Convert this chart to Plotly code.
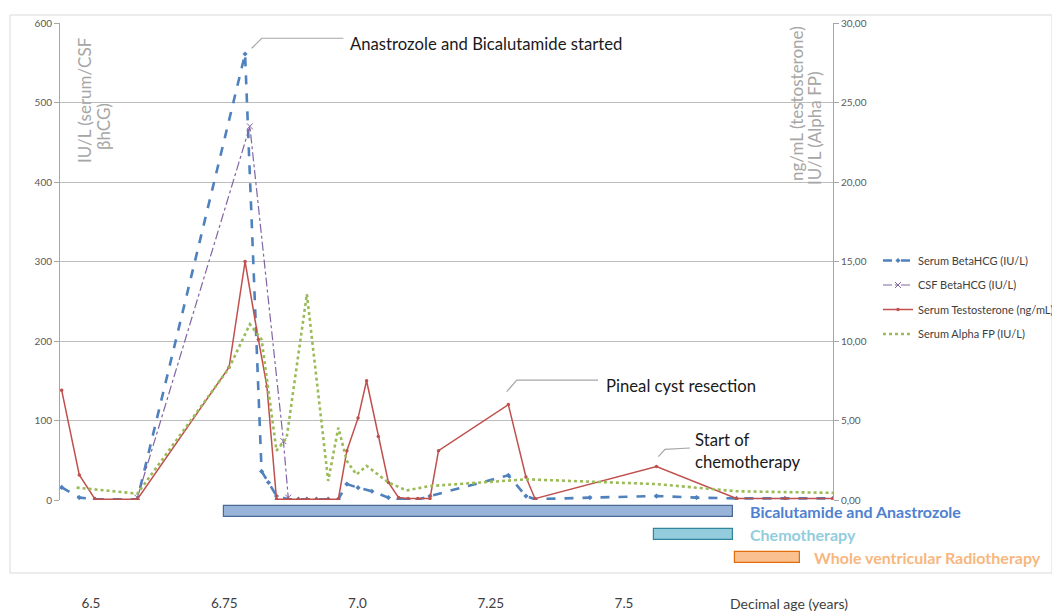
import plotly.graph_objects as go

# ---------------- data ----------------
serum_hcg_age = [6.445, 6.478, 6.5075, 6.587, 6.789, 6.820, 6.833, 6.848, 6.870, 6.889, 6.905,
                 6.923, 6.945, 6.964, 6.980, 7.001, 7.027, 7.058, 7.077, 7.095, 7.113, 7.136,
                 7.283, 7.316, 7.333, 7.436, 7.561, 7.636, 7.711, 7.802, 7.892]
serum_hcg = [16, 3, 1, 1, 561, 36, 22, 5, 1, 1, 1, 1, 1, 1, 20, 15.5, 11, 3, 1, 0.5, 0.5, 5,
             31, 5, 1, 3, 5, 3, 2, 2, 2]

csf_hcg_age = [6.587, 6.798, 6.861, 6.870]
csf_hcg = [3, 470, 74, 3]

testo_age = [6.445, 6.478, 6.5075, 6.587, 6.759, 6.789, 6.814, 6.830, 6.848, 6.870, 6.889,
             6.905, 6.923, 6.945, 6.964, 6.980, 7.001, 7.017, 7.039, 7.058, 7.077, 7.095,
             7.113, 7.136, 7.152, 7.283, 7.316, 7.333, 7.561, 7.711, 7.802, 7.892]
testo = [6.9, 1.58, 0.05, 0.05, 8.35, 15.0, 10.1, 7.15, 0.05, 0.05, 0.05, 0.05, 0.05, 0.05,
         0.05, 3.1, 5.15, 7.5, 4.0, 1.1, 0.15, 0.1, 0.1, 0.1, 3.1, 6.0, 1.45, 0.08, 2.1, 0.1,
         0.1, 0.1]

afp_age = [6.473, 6.587, 6.759, 6.798, 6.820, 6.848, 6.867, 6.905, 6.945, 6.964, 6.980,
           6.998, 7.017, 7.058, 7.092, 7.136, 7.317, 7.561, 7.711, 7.892]
afp = [0.78, 0.4, 8.3, 11.05, 10.1, 3.1, 3.9, 12.95, 1.2, 4.55, 2.45, 1.6, 2.15, 1.1, 0.6,
       0.88, 1.3, 1.0, 0.55, 0.45]

series_names = ["Serum BetaHCG (IU/L)", "CSF BetaHCG (IU/L)",
                "Serum Testosterone (ng/mL)", "Serum Alpha FP (IU/L)"]

treat_names = ["Bicalutamide and Anastrozole", "Chemotherapy", "Whole ventricular Radiotherapy"]
treat_start = [6.750, 7.556, 7.708]
treat_end = [7.705, 7.705, 7.830]
treat_row = [2, 1, 0]

left_ticks = [0, 100, 200, 300, 400, 500, 600]
right_ticks = [0, 5, 10, 15, 20, 25, 30]
right_ticktext = ["0,00", "5,00", "10,00", "15,00", "20,00", "25,00", "30,00"]
x_ticks = [6.5, 6.75, 7.0, 7.25, 7.5]
x_ticktext = ["6.5", "6.75", "7.0", "7.25", "7.5"]

events = [
    {"text": "Anastrozole and Bicalutamide started",
     "path": [(6.8015, 568.2), (6.8203, 580.8), (6.9734, 580.8)], "tx": 6.9822, "ty": [573.6]},
    {"text": "Pineal cyst resection",
     "path": [(7.2799, 136.2), (7.2987, 150.9), (7.4512, 150.9)], "tx": 7.4625, "ty": [143.4]},
    {"text": "Start of|chemotherapy",
     "path": [(7.5644, 54.5), (7.5769, 63.8), (7.6238, 65.4)], "tx": 7.6295, "ty": [75.5, 47.8]},
]

# ---------------- styling ----------------
FONT = "Lato, 'Open Sans', sans-serif"
C_BLUE = "#4F81BD"
C_PURPLE = "#8064A2"
C_RED = "#C0504D"
C_GREEN = "#9BBB59"
GRID = "#BDBDBD"
AXIS = "#A6A6A6"
TICKC = "#595959"

treat_fill = ["#98B4D9", "#93CDDD", "#FAC090"]
treat_line = ["#4A6A96", "#31859C", "#E46C0A"]
treat_text = ["#4F81D0", "#92CDDC", "#F8B77E"]

fig = go.Figure()

fig.add_trace(go.Scatter(
    x=serum_hcg_age, y=serum_hcg, name=series_names[0], mode="lines+markers",
    line=dict(color=C_BLUE, width=2.6, dash="dash"),
    marker=dict(symbol="diamond", size=4, color=C_BLUE),
    xaxis="x", yaxis="y", legendgroup="a"))
fig.add_trace(go.Scatter(
    x=csf_hcg_age, y=csf_hcg, name=series_names[1], mode="lines+markers",
    line=dict(color=C_PURPLE, width=1.2, dash="dashdot"),
    marker=dict(symbol="x-thin", size=6, line=dict(color=C_PURPLE, width=1)),
    xaxis="x", yaxis="y", legendgroup="b"))
fig.add_trace(go.Scatter(
    x=testo_age, y=testo, name=series_names[2], mode="lines+markers",
    line=dict(color=C_RED, width=1.5),
    marker=dict(symbol="circle", size=3.5, color=C_RED),
    xaxis="x", yaxis="y2", legendgroup="c"))
fig.add_trace(go.Scatter(
    x=afp_age, y=afp, name=series_names[3], mode="lines",
    line=dict(color=C_GREEN, width=2.6, dash="dot"),
    xaxis="x", yaxis="y2", legendgroup="d"))

# treatment timeline bars
for i in range(len(treat_names)):
    fig.add_trace(go.Bar(
        x=[treat_end[i] - treat_start[i]], base=[treat_start[i]], y=[treat_row[i]],
        orientation="h", width=0.48,
        marker=dict(color=treat_fill[i], line=dict(color=treat_line[i], width=1.2)),
        xaxis="x", yaxis="y3", showlegend=False, hoverinfo="skip",
        legendgroup=f"t{i}"))

# ---------------- layout ----------------
# page has an 8px body margin; the figure is sized so it fits the 1060x612 window
OFF = 8
W, H = 1060 - OFF, 612 - OFF
ML, MR, MT, MB = 60 - OFF, 227, 23 - OFF, 37
plot_h = H - MT - MB
main_bottom_px = 500
dom_split = (575 - main_bottom_px) / plot_h

def px_x(px):
    return (px - 60) / 773

def px_y(py):
    return (575 - py) / plot_h

fig.update_layout(
    width=W, height=H,
    margin=dict(l=ML, r=MR, t=MT, b=MB, autoexpand=False),
    paper_bgcolor="white", plot_bgcolor="white",
    font=dict(family=FONT, size=10, color=TICKC),
    showlegend=True,
    legend=dict(x=px_x(878), y=px_y(246), xanchor="left", yanchor="top",
                font=dict(size=11, color="#404040", family=FONT),
                bgcolor="rgba(0,0,0,0)", itemwidth=30, tracegroupgap=5.5,
                traceorder="grouped"),
    bargap=0,
    xaxis=dict(domain=[0, 1], range=[6.4418, 7.8921], anchor="y3",
               showgrid=False, zeroline=False, showline=False, ticks="",
               tickmode="array", tickvals=x_ticks, ticktext=x_ticktext, automargin=False,
               tickfont=dict(size=13.5, color="#404040"), ticklabelstandoff=18),
    yaxis=dict(domain=[dom_split, 1], range=[0, 600], tickvals=left_ticks,
               showgrid=True, gridcolor=GRID, gridwidth=1, zeroline=False,
               showline=True, linecolor=AXIS, linewidth=1, ticks="outside",
               ticklen=5, tickcolor=AXIS, tickfont=dict(size=10, color=TICKC),
               anchor="x", automargin=False),
    yaxis2=dict(domain=[dom_split, 1], range=[0, 30], overlaying="y", side="right",
                tickvals=right_ticks, ticktext=right_ticktext, showgrid=False,
                zeroline=False, showline=True, linecolor=AXIS, linewidth=1,
                ticks="outside", ticklen=5, tickcolor=AXIS, automargin=False,
                tickfont=dict(size=10, color=TICKC), anchor="x"),
    yaxis3=dict(domain=[0, dom_split], range=[-0.76, 2.5], visible=False,
                fixedrange=True, anchor="x", automargin=False),
)

shapes = []
annotations = []

# outer frame
shapes.append(dict(type="rect", xref="paper", yref="paper",
                   x0=px_x(10), x1=px_x(1052), y0=px_y(573), y1=px_y(15),
                   line=dict(color="#D9D9D9", width=1), fillcolor="rgba(0,0,0,0)",
                   layer="below"))

# event callouts
for ev in events:
    pts = ev["path"]
    path = "M " + " L ".join(f"{x},{y}" for x, y in pts)
    shapes.append(dict(type="path", xref="x", yref="y", path=path,
                       line=dict(color="#A6A6A6", width=1.2)))
    for line_txt, ty in zip(ev["text"].split("|"), ev["ty"]):
        annotations.append(dict(x=ev["tx"], y=ty, xref="x", yref="y", text=line_txt,
                                showarrow=False, xanchor="left", yanchor="middle",
                                font=dict(size=16.7, color="#1a1a1a", family=FONT)))

# treatment labels
for i in range(len(treat_names)):
    lx = px_x(748) if i < 2 else px_x(812)
    annotations.append(dict(x=lx, y=treat_row[i], xref="paper", yref="y3",
                            text=f"<b>{treat_names[i]}</b>", showarrow=False,
                            xanchor="left", yanchor="middle",
                            font=dict(size=16, color=treat_text[i], family=FONT)))

# axis titles (rotated, inside plot)
ax_grey = "#A6A6A6"
def vlabel(text, cx, cy):
    return dict(x=px_x(cx), y=px_y(cy), xref="paper", yref="paper", text=text,
                textangle=-90, showarrow=False, xanchor="center", yanchor="middle",
                font=dict(size=17, color=ax_grey, family=FONT))

annotations += [
    vlabel("IU/L (serum/CSF", 85, 100),
    vlabel("βhCG)", 104, 127),
    vlabel("ng/mL (testosterone)", 797, 104),
    vlabel("IU/L (Alpha FP)", 815, 128),
    dict(x=px_x(728), y=px_y(603), xref="paper", yref="paper", text="Decimal age (years)",
         xanchor="left", yanchor="middle", showarrow=False,
         font=dict(size=14, color="#404040", family=FONT)),
]

fig.update_layout(shapes=shapes, annotations=annotations)

fig.write_html("out.html")
